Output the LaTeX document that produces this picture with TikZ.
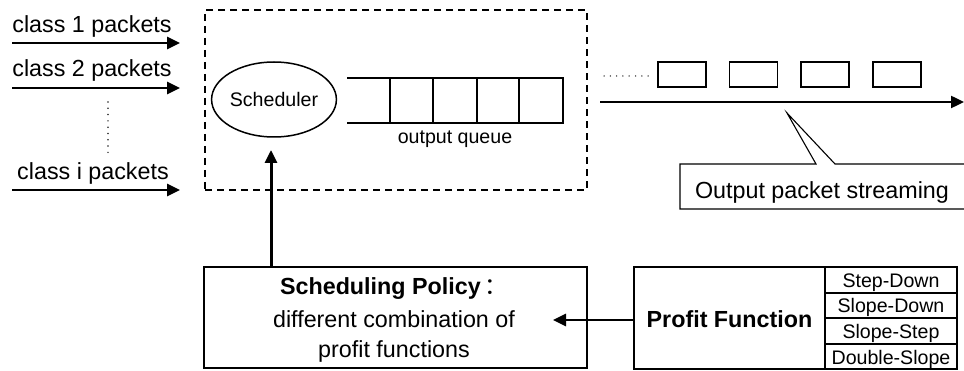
\documentclass[tikz,border=0pt]{standalone}
\usepackage{fontspec}
\setmainfont{Liberation Sans}
\newfontfamily\cjkfont{Noto Sans CJK SC}
\usetikzlibrary{arrows.meta,shapes.geometric}
\begin{document}
\begin{tikzpicture}[x=1pt,y=-1pt,
  big/.style={font=\fontsize{23.3}{28}\selectfont},
  bigbold/.style={font=\fontsize{23.3}{28}\selectfont\bfseries},
  small/.style={font=\fontsize{19.6}{24}\selectfont},
  txt/.style={inner sep=0pt,anchor=base},
  fatarrow/.style={line width=2.8pt,-{Triangle[length=13pt,width=12pt]}},
  boxline/.style={draw,line width=1.4pt,inner sep=0pt},
  dotline/.style={line width=1.7pt,dash pattern=on 0pt off 6.3pt,line cap=round,black!85}]
\useasboundingbox[fill=white] (0,0) rectangle (964,371);

% incoming classes
\node[txt,big] (c1) at (92,33) {class 1 packets};
\node[txt,big] (c2) at (92,77) {class 2 packets};
\node[txt,big] (ci) at (93,180) {class i packets};
\coordinate (c1s) at (12,43);  \coordinate (c1e) at (180,43);
\coordinate (c2s) at (12,88);  \coordinate (c2e) at (180,88);
\coordinate (cis) at (12,190); \coordinate (cie) at (180,190);
\draw[fatarrow] (c1s) -- (c1e);
\draw[fatarrow] (c2s) -- (c2e);
\draw[fatarrow] (cis) -- (cie);
\coordinate (vd1) at (108,102); \coordinate (vd2) at (108,158);
\draw[dotline] (vd1) -- (vd2);

% dashed router box
\node[draw,line width=2pt,dash pattern=on 7pt off 5pt,minimum width=382pt,minimum height=180pt,inner sep=0pt] (router) at (396,100) {};

% scheduler
\node[draw,ellipse,line width=1.5pt,minimum width=112pt,minimum height=75pt,inner sep=0pt,small] (sch) at (274,99.5) {Scheduler};

% output queue
\draw[line width=2pt] (347,78) -- (563,78) -- (563,123) -- (347,123);
\foreach \qx in {390,433,477,519} {\draw[line width=2pt] (\qx,78) -- (\qx,123);}
\node[txt,small] (oq) at (455,144) {output queue};

% output stream
\coordinate (lead1) at (604,76); \coordinate (lead2) at (650,76);
\draw[dotline,line width=1.5pt] (lead1) -- (lead2);
\node[boxline,minimum width=48pt,minimum height=25pt] (p1) at (682,74.5) {};
\node[boxline,minimum width=48pt,minimum height=25pt] (p2) at (753.5,74.5) {};
\node[boxline,minimum width=48pt,minimum height=25pt] (p3) at (825,74.5) {};
\node[boxline,minimum width=48pt,minimum height=25pt] (p4) at (897,74.5) {};
\coordinate (ss) at (600,102); \coordinate (se) at (964,102);
\draw[fatarrow,line width=2.4pt] (ss) -- (se);

% callout
\coordinate (tip) at (787,113);
\draw[line width=1.1pt] (964,164) -- (835,164) -- (tip) -- (816,164) -- (680,164) -- (680,209) -- (964,209);
\node[txt,big] (ops) at (822,199) {Output packet streaming};

% scheduling policy
\node[boxline,minimum width=383pt,minimum height=101pt] (pol) at (395.5,317.5) {};
\node[txt,bigbold] (pol1) at (394,295) {Scheduling Policy\,{\mdseries\cjkfont ：}};
\node[txt,big] (pol2) at (394,327) {different combination of};
\node[txt,big] (pol3) at (394,357) {profit functions};
\coordinate (up1) at (271,267); \coordinate (up2) at (271,150);
\draw[fatarrow,line width=3pt] (up1) -- (up2);

% profit function
\node[boxline,minimum width=191pt,minimum height=102pt] (pf) at (729.5,318) {};
\node[txt,bigbold] (pft) at (729.5,327) {Profit Function};
\node[boxline,minimum width=132pt,minimum height=102pt] (tab) at (891,318) {};
\foreach \ry in {293,318,344} {\draw[line width=1.4pt] (825,\ry) -- (957,\ry);}
\node[txt,small] (r1) at (891,287.5) {Step-Down};
\node[txt,small] (r2) at (891,313) {Slope-Down};
\node[txt,small] (r3) at (891,338.5) {Slope-Step};
\node[txt,small] (r4) at (891,364) {Double-Slope};
\coordinate (la1) at (634,320); \coordinate (la2) at (553,320);
\draw[fatarrow] (la1) -- (la2);
\end{tikzpicture}
\end{document}
